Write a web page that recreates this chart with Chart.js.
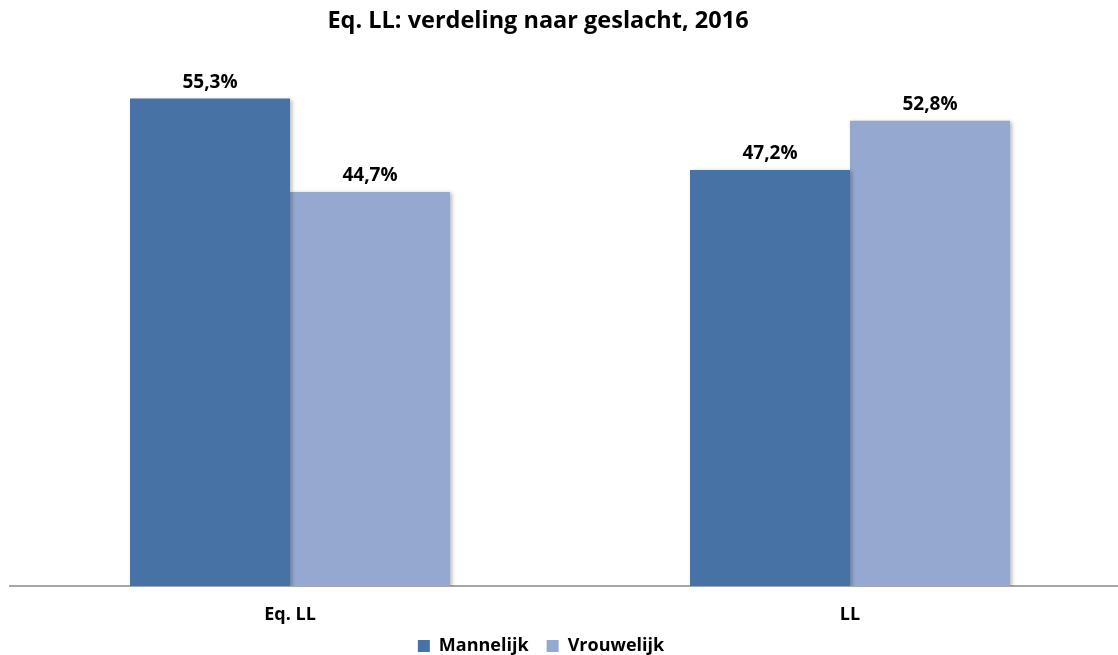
<!DOCTYPE html>
<html>
<head>
<meta charset="utf-8">
<script src="https://cdn.jsdelivr.net/npm/chart.js@4.4.1/dist/chart.umd.min.js"></script>
<style>
  html, body { margin: 0; padding: 0; background: #ffffff; overflow: hidden; }
  #wrap { width: 1118px; height: 655px; overflow: hidden; position: relative; }
  canvas { display: block; }
</style>
</head>
<body>
<div id="wrap"><canvas id="c" width="1130" height="655"></canvas></div>
<script>
const titleText = 'Eq. LL: verdeling naar geslacht, 2016';
const categories = ['Eq. LL', 'LL'];
const seriesNames = ['Mannelijk', 'Vrouwelijk'];
const mannelijk = [55.3, 47.2];
const vrouwelijk = [44.7, 52.8];
const seriesColors = ['#4672A6', '#95A9D0'];

const FONT = "'Open Sans', 'DejaVu Sans', sans-serif";

const shadowPlugin = {
  id: 'barShadow',
  beforeDatasetsDraw(chart) {
    const ctx = chart.ctx;
    ctx.save();
    ctx.shadowColor = 'rgba(0,0,0,0.28)';
    ctx.shadowBlur = 4;
    ctx.shadowOffsetX = 2;
    ctx.shadowOffsetY = 1;
  },
  afterDatasetsDraw(chart) {
    chart.ctx.restore();
  }
};

const labelPlugin = {
  id: 'valueLabels',
  afterDraw(chart) {
    const ctx = chart.ctx;
    ctx.save();
    ctx.font = 'bold 19px ' + FONT;
    ctx.fillStyle = '#000000';
    ctx.textAlign = 'center';
    ctx.textBaseline = 'alphabetic';
    chart.data.datasets.forEach((ds, di) => {
      const meta = chart.getDatasetMeta(di);
      meta.data.forEach((bar, i) => {
        const txt = ds.data[i].toFixed(1).replace('.', ',') + '%';
        ctx.fillText(txt, bar.x, bar.y - 11);
      });
    });
    ctx.restore();
  }
};

const centerPlugin = {
  id: 'recenter',
  afterLayout(chart) {
    if (chart.titleBlock) { chart.titleBlock.left = 0; chart.titleBlock.right = 1076; }
    if (chart.legend) {
      chart.legend.left = 0; chart.legend.right = 1082;
      chart.legend.top = 619; chart.legend.bottom = 660;
    }
  }
};

new Chart(document.getElementById('c'), {
  type: 'bar',
  data: {
    labels: categories,
    datasets: [
      { label: seriesNames[0], data: mannelijk, backgroundColor: seriesColors[0], borderWidth: 0 },
      { label: seriesNames[1], data: vrouwelijk, backgroundColor: seriesColors[1], borderWidth: 0 }
    ]
  },
  options: {
    responsive: false,
    animation: false,
    devicePixelRatio: 1,
    layout: { padding: { left: 10, right: 0, top: 0, bottom: 2 } },
    datasets: { bar: { categoryPercentage: 0.5714, barPercentage: 1.0 } },
    scales: {
      x: {
        grid: { display: false, drawTicks: false, tickLength: 0 },
        border: { display: true, color: '#A6A6A6', width: 2 },
        ticks: { color: '#000000', font: { family: FONT, size: 18, weight: 'bold' }, padding: 18 },
        afterFit(scale) { scale.height = 45; }
      },
      y: {
        display: false,
        min: 0,
        max: 60
      }
    },
    plugins: {
      title: {
        display: true,
        text: titleText,
        color: '#000000',
        font: { family: FONT, size: 23.5, weight: 'bold' },
        padding: { top: 7, bottom: 22 }
      },
      legend: {
        display: true,
        position: 'bottom',
        maxHeight: 22,
        labels: {
          color: '#000000',
          font: { family: FONT, size: 18, weight: 'bold' },
          boxWidth: 12,
          boxHeight: 12,
          padding: 18
        }
      },
      tooltip: { enabled: false }
    }
  },
  plugins: [shadowPlugin, labelPlugin, centerPlugin]
});
</script>
</body>
</html>
